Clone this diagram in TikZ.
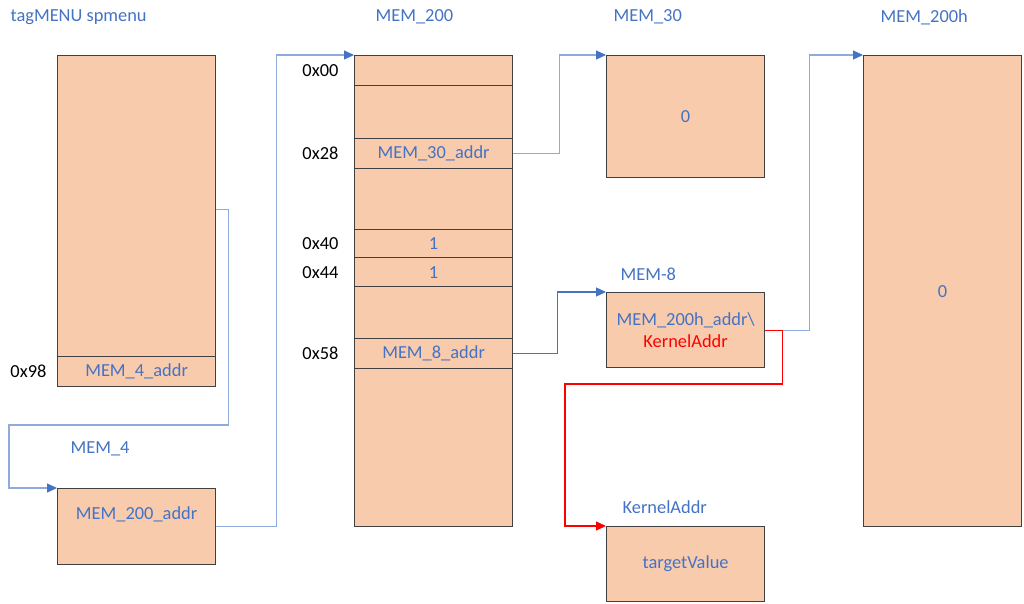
\documentclass[tikz,border=0pt]{standalone}
\usepackage{fontspec}
\setmainfont{Carlito}
\usetikzlibrary{positioning,arrows.meta}
\definecolor{memfill}{HTML}{F8CBAD}
\definecolor{memline}{HTML}{404040}
\definecolor{memblue}{HTML}{4472C4}
\definecolor{linkblue}{HTML}{8FAADC}

\begin{document}
\begin{tikzpicture}[x=1pt,y=-1pt,line width=1.2pt,
  font=\fontsize{18.4}{22}\selectfont,
  mem/.style={draw=memline,fill=memfill,text=memblue,minimum width=158pt,inner sep=0pt,anchor=north west},
  cell/.style={mem,minimum height=#1},
  title/.style={text=memblue,anchor=west,inner sep=0pt},
  offs/.style={inner sep=0pt},
  link/.style={linkblue,-{Triangle[length=10pt,width=9pt,color=memblue]}},
  redlink/.style={red,-{Triangle[length=10pt,width=9pt]}}]

\useasboundingbox (0,0) rectangle (1024,603);

\node[title] (ttag) at (10,17) {tagMENU spmenu};
\node[title] (t200) at (375,17) {MEM\_200};
\node[title] (t30) at (613,17) {MEM\_30};
\node[title] (t200h) at (880,17) {MEM\_200h};
\node[title] (t8) at (620,274) {MEM-8};
\node[title] (tkaddr) at (622,507) {KernelAddr};
\node[title] (t4) at (70,449) {MEM\_4};

\node[cell=331pt] (menu) at (57,55) {};
\node[cell=30pt] (m4addr) at (57,356) {MEM\_4\_addr};
\node[offs,left=10pt of m4addr] (o98) {0x98};

\node[cell=76pt,text depth=26pt] (mem4) at (57,488) {MEM\_200\_addr};

\node[cell=471pt] (mem200) at (354,55) {};
\node[cell=30pt] (c00) at (354,55) {};
\node[cell=30pt] (c28) at (354,138) {MEM\_30\_addr};
\node[cell=28pt] (c40) at (354,229) {1};
\node[cell=29pt] (c44) at (354,257) {1};
\node[cell=30pt] (c58) at (354,338) {MEM\_8\_addr};
\node[offs,left=15pt of c00] (o00) {0x00};
\node[offs,left=15pt of c28] (o28) {0x28};
\node[offs,left=15pt of c40] (o40) {0x40};
\node[offs,left=15pt of c44] (o44) {0x44};
\node[offs,left=15pt of c58] (o58) {0x58};

\node[cell=122pt] (mem30) at (606,55) {0};
\node[cell=75pt,align=center] (mem8) at (606,292) {MEM\_200h\_addr\textbackslash\\\textcolor{red}{KernelAddr}};
\node[cell=75pt] (kaddr) at (606,526) {targetValue};
\node[cell=471pt] (mem200h) at (863,55) {0};

\draw[link] ([yshift=11.5pt]menu.east) -- ++(12,0) |- (9,425) |- (mem4.north west);
\draw[link] (mem4.east) -- ++(60,0) |- (mem200.north west);
\draw[link] (c28.east) -- ++(46,0) |- (mem30.north west);
\draw[link,memblue] (c58.east) -- ++(44,0) |- (mem8.north west);
\draw[link] (mem8.east) -- ++(44,0) |- (mem200h.north west);
\draw[redlink] (mem8.east) -- ++(17,0) |- (565,384) |- (kaddr.north west);

\end{tikzpicture}
\end{document}
